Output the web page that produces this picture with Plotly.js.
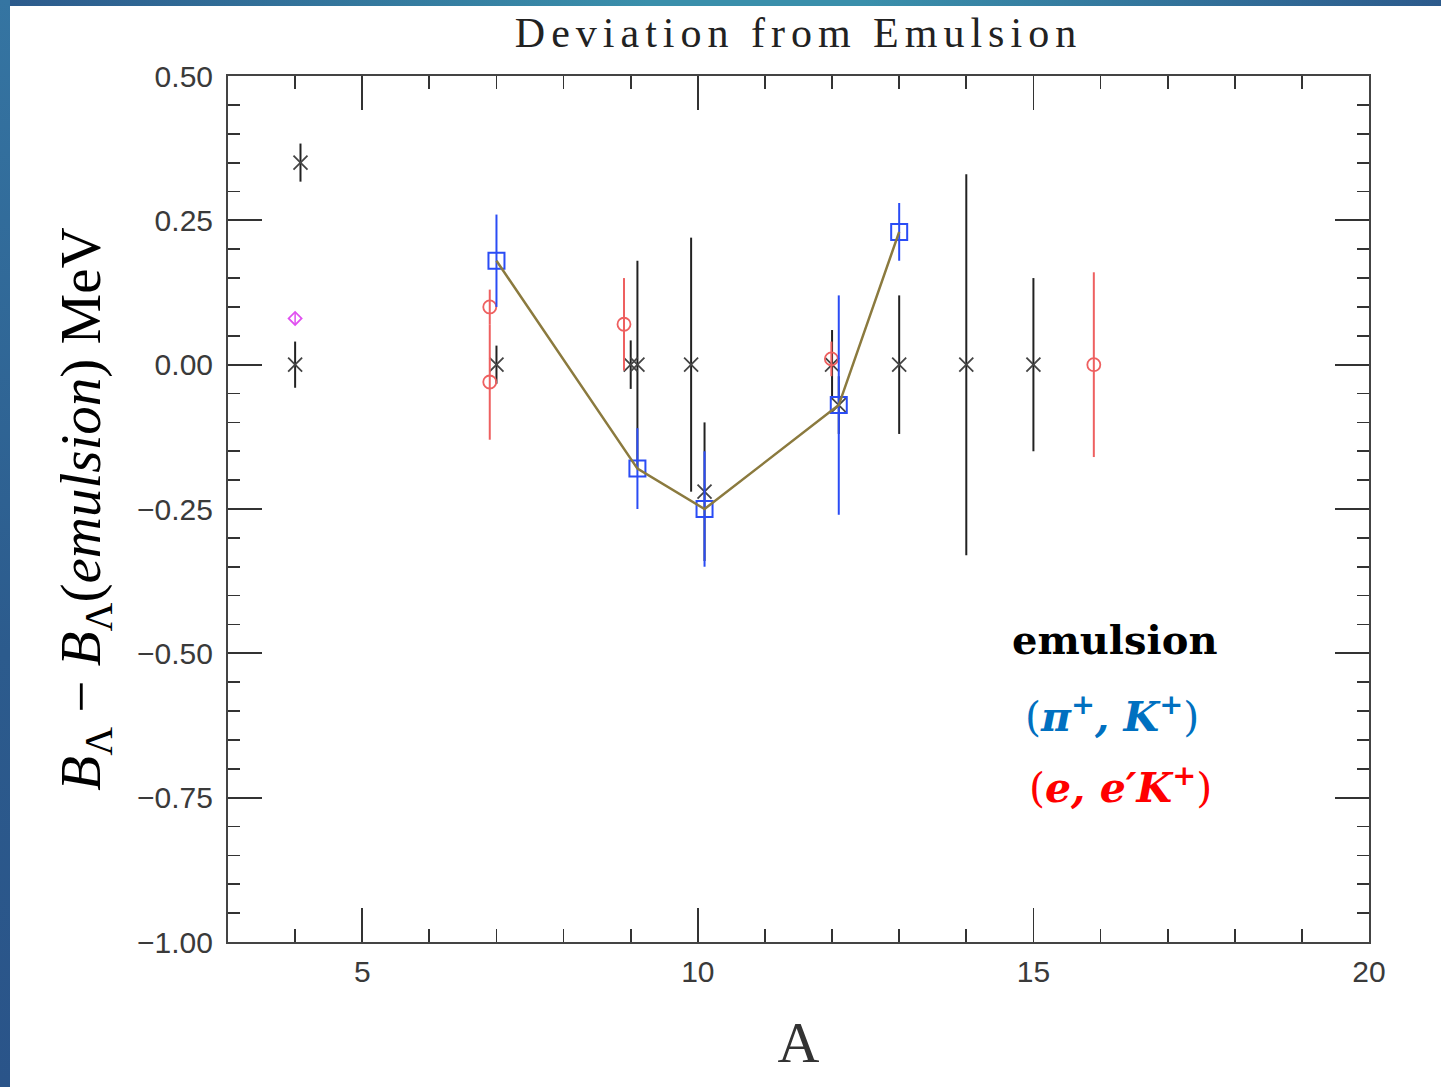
<!DOCTYPE html>
<html>
<head>
<meta charset="utf-8">
<script src="https://cdn.plot.ly/plotly-3.0.1.min.js"></script>
<style>
  html, body { margin: 0; padding: 0; width: 1441px; height: 1087px; overflow: hidden;
    background: linear-gradient(to right, #2c5a8c 0%, #3a8fab 45%, #3a8fab 60%, #2c5a8c 100%); }
  #leftstrip { position: absolute; left: 0; top: 0; width: 10px; height: 1087px;
    background: linear-gradient(to bottom, #3575a2 0%, #2c5b8d 60%, #2a5489 100%); }
  #chart { position: absolute; left: 10px; top: 6px; width: 1431px; height: 1081px; background: #fff; }
  .gtitle { letter-spacing: 6px; }
</style>
</head>
<body>
<div id="leftstrip"></div>
<div id="chart"></div>
<script>
// ---- data (A, deviation in MeV, error in MeV) ----
const emulsionA   = [4.0, 4.08, 7.0, 9.0, 9.1, 9.9, 10.1, 12.0, 12.1, 13.0, 14.0, 15.0];
const emulsionDev = [0.0, 0.35, 0.0, 0.0, 0.0, 0.0, -0.22, 0.0, -0.07, 0.0, 0.0, 0.0];
const emulsionErr = [0.04, 0.033, 0.033, 0.042, 0.18, 0.22, 0.12, 0.06, 0.05, 0.12, 0.33, 0.15];

const piKA   = [7.0, 9.1, 10.1, 12.1, 13.0];
const piKDev = [0.18, -0.18, -0.25, -0.07, 0.23];
const piKErr = [0.08, 0.07, 0.10, 0.19, 0.05];

const eeKA   = [6.9, 6.9, 8.9, 11.99, 15.9];
const eeKDev = [0.10, -0.03, 0.07, 0.01, 0.0];
const eeKErr = [0.03, 0.10, 0.08, 0.03, 0.16];

const otherA   = [4.0];
const otherDev = [0.08];
const otherErr = [0.01];

const xTickVals = [5, 10, 15, 20];
const xTickText = ['5', '10', '15', '20'];
const yTickVals = [0.5, 0.25, 0, -0.25, -0.5, -0.75, -1.0];
const yTickText = ['0.50', '0.25', '0.00', '\u22120.25', '\u22120.50', '\u22120.75', '\u22121.00'];

const traces = [
  {
    x: emulsionA, y: emulsionDev, type: 'scatter', mode: 'markers', name: 'emulsion',
    marker: { symbol: 'x-thin-open', size: 14, color: '#444', line: { color: '#444', width: 1.8 } },
    error_y: { type: 'data', array: emulsionErr, visible: true, color: '#222', thickness: 2, width: 0 }
  },
  {
    x: otherA, y: otherDev, type: 'scatter', mode: 'markers', name: 'other',
    marker: { symbol: 'diamond-open', size: 10, color: '#e050f0', line: { color: '#e050f0', width: 1.8 } },
    error_y: { type: 'data', array: otherErr, visible: true, color: '#e050f0', thickness: 1.5, width: 0 }
  },
  {
    x: eeKA, y: eeKDev, type: 'scatter', mode: 'markers', name: '(e,e\u2032K+)',
    marker: { symbol: 'circle-open', size: 13, color: '#ee6060', line: { color: '#ee6060', width: 1.8 } },
    error_y: { type: 'data', array: eeKErr, visible: true, color: '#ee6060', thickness: 2, width: 0 }
  },
  {
    x: piKA, y: piKDev, type: 'scatter', mode: 'markers', name: '(\u03c0+,K+)',
    marker: { symbol: 'square-open', size: 16, color: '#2a4cf5', line: { color: '#2a4cf5', width: 2 } },
    error_y: { type: 'data', array: piKErr, visible: true, color: '#2a4cf5', thickness: 2, width: 0 }
  },
  {
    x: piKA, y: piKDev, type: 'scatter', mode: 'lines', name: 'trend',
    line: { color: '#8b7a3e', width: 2.5 }
  }
];

const axisCommon = {
  showgrid: false, zeroline: false, showline: true, linecolor: '#444', linewidth: 2,
  mirror: 'ticks', ticks: 'inside', tickcolor: '#333', tickwidth: 1.8, ticklen: 34,
  tickfont: { family: 'Liberation Sans, Arial, sans-serif', size: 30, color: '#3a3a3a' }
};

const layout = {
  width: 1431, height: 1081,
  paper_bgcolor: '#ffffff', plot_bgcolor: '#ffffff',
  showlegend: false,
  margin: { l: 218, r: 72, t: 70, b: 145 },
  title: {
    text: 'Deviation from Emulsion',
    font: { family: 'Liberation Serif, serif', size: 42, color: '#222' },
    x: 0.5, xref: 'paper', xanchor: 'center',
    y: 1 - 26 / 1081, yref: 'container', yanchor: 'middle'
  },
  xaxis: Object.assign({}, axisCommon, {
    range: [3, 20], tickmode: 'array', tickvals: xTickVals, ticktext: xTickText,
    ticklabelstandoff: 2,
    minor: { dtick: 1, tick0: 0, ticks: 'inside', ticklen: 13, tickcolor: '#333', tickwidth: 1.8 },
    title: { text: 'A', font: { family: 'Liberation Serif, serif', size: 58, color: '#333' }, standoff: 34 }
  }),
  yaxis: Object.assign({}, axisCommon, {
    range: [-1.0, 0.5], tickmode: 'array', tickvals: yTickVals, ticktext: yTickText,
    ticklabelstandoff: 7,
    minor: { dtick: 0.05, tick0: 0, ticks: 'inside', ticklen: 12, tickcolor: '#333', tickwidth: 1.8 },
    title: {
      text: '<i>B</i><sub>\u039b</sub> \u2212 <i>B</i><sub>\u039b</sub>(<i>emulsion</i>) MeV',
      font: { family: 'Liberation Serif, serif', size: 57, color: '#000' }, standoff: 18
    }
  }),
  annotations: [
    { xref: 'paper', yref: 'paper', x: 0.777, y: 0.349, xanchor: 'center', yanchor: 'middle', showarrow: false,
      text: '<b>emulsion</b>', font: { family: 'DejaVu Serif, serif', size: 40, color: '#000' } },
    { xref: 'paper', yref: 'paper', x: 0.775, y: 0.263, xanchor: 'center', yanchor: 'middle', showarrow: false,
      text: '(<b><i>\u03c0</i><sup>+</sup><i>, K</i><sup>+</sup></b>)', font: { family: 'DejaVu Serif, serif', size: 41, color: '#0070c0' } },
    { xref: 'paper', yref: 'paper', x: 0.782, y: 0.181, xanchor: 'center', yanchor: 'middle', showarrow: false,
      text: '(<b><i>e, e\u2032K</i><sup>+</sup></b>)', font: { family: 'DejaVu Serif, serif', size: 41, color: '#ff0000' } }
  ]
};

Plotly.newPlot('chart', traces, layout, { displayModeBar: false, staticPlot: true });
</script>
</body>
</html>
